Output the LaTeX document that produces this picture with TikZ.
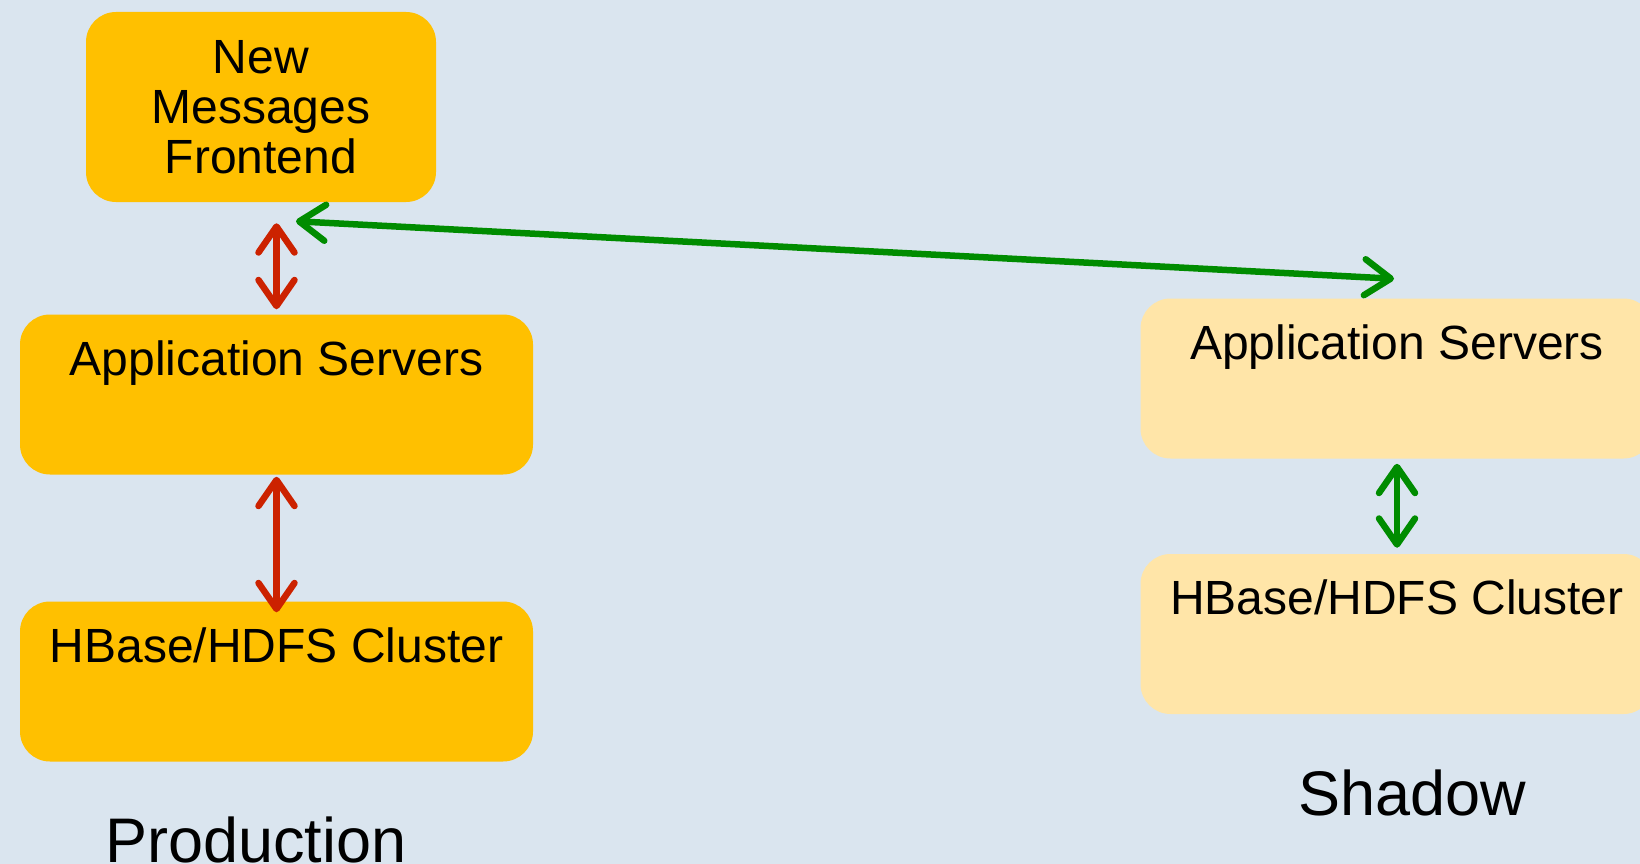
\documentclass[tikz,border=0pt]{standalone}
\usepackage{fontspec}
\setmainfont{Liberation Sans}
\usetikzlibrary{arrows.meta}
\definecolor{bgblue}{HTML}{DAE5EF}
\definecolor{prodfill}{HTML}{FFC000}
\definecolor{shadowfill}{HTML}{FFE5A8}
\definecolor{linkred}{HTML}{CC2200}
\definecolor{linkgreen}{HTML}{008C00}
\begin{document}
\begin{tikzpicture}[x=1pt, y=-1pt, line width=6.5pt,
    >={Straight Barb[length=26pt, width=36pt, line cap=round, line join=round]},
    box/.style={rounded corners=30pt, minimum width=513pt, minimum height=160pt, inner sep=0pt},
    boxtext/.style={anchor=north, inner sep=0pt, yshift=-26pt, font=\fontsize{48}{50}\selectfont},
    title/.style={anchor=base, inner sep=0pt, font=\fontsize{63}{66}\selectfont}]
	% 背景
	\fill[bgblue] (0,0) rectangle (1640,864);
	\useasboundingbox (0,0) rectangle (1640,864);
	\clip (0,0) rectangle (1640,864);
	
	% ==== 左侧：Production ====
	\begin{scope}
		\node[box, fill=prodfill, minimum width=350pt, minimum height=190pt, align=center,
		      font=\fontsize{48}{50}\selectfont] (front) at (261,107) {New\\Messages\\Frontend};
		\node[box, fill=prodfill] (app1) at (276.5,394.5) {};
		\node[boxtext] (app1txt) at (app1.north) {Application Servers};
		\node[box, fill=prodfill] (hb1) at (276.5,681.5) {};
		\node[boxtext] (hb1txt) at (hb1.north) {HBase/HDFS Cluster};
		
		% 连接
		\draw[<->, linkred, shorten <=2pt, shorten >=18pt] (app1.north) -- (app1.north |- front.south);
		\draw[<->, linkred, shorten <=-1pt, shorten >=-14pt] (app1.south) -- (hb1.north);
		
		% 标号
		\node[title] (prodtitle) at (256,862) {Production};
	\end{scope}
	
	% ==== 右侧：Shadow ====
	\begin{scope}
		\node[box, fill=shadowfill] (app2) at (1397,378.5) {};
		\node[boxtext] (app2txt) at (app2.north) {Application Servers};
		\node[box, fill=shadowfill] (hb2) at (1397,634) {};
		\node[boxtext] (hb2txt) at (hb2.north) {HBase/HDFS Cluster};
		
		% 连接
		\draw[<->, linkgreen, shorten <=2pt, shorten >=3pt] (app2.south) -- (hb2.north);
		
		% 标号
		\node[title] (shadowtitle) at (1412,815) {Shadow};
	\end{scope}
	
	% 镜像流量
	\coordinate (frontlink) at ([xshift=35pt, yshift=-16pt]front.south);
	\coordinate (shadowlink) at ([xshift=-3pt, yshift=16.5pt]app2.north);
	\draw[<->, linkgreen] (frontlink) -- (shadowlink);
\end{tikzpicture}
\end{document}
